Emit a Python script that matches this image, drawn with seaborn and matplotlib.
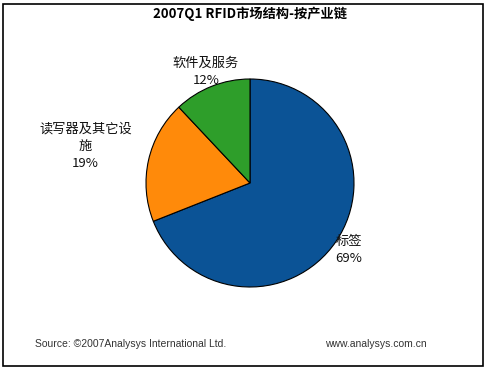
import numpy as np
import seaborn as sns
import matplotlib
matplotlib.use("Agg")
import matplotlib.pyplot as plt
from matplotlib.patches import Rectangle

# data
categories = ["标签", "读写器及其它设\n施", "软件及服务"]
shares = [69, 19, 12]
colors = ["#0B5396", "#FF8A0A", "#2E9E2A"]
label_dist = [1.15, 1.62, 1.15]

title = "2007Q1 RFID市场结构-按产业链"
source = "Source: ©2007Analysys International Ltd."
site = "www.analysys.com.cn"

sns.set_theme(style="white")
plt.rcParams["font.family"] = ["Noto Sans CJK SC", "DejaVu Sans"]

fig = plt.figure(figsize=(4.86, 3.70), dpi=100)
fig.patch.set_facecolor("white")

ax = fig.add_axes([146 / 486, 83 / 370, 208 / 486, 208 / 370])
wedges, _ = ax.pie(shares, colors=colors, startangle=90, counterclock=False,
                   wedgeprops=dict(edgecolor="black", linewidth=0.8))
ax.set_xlim(-1, 1)
ax.set_ylim(-1, 1)
ax.set_aspect("auto")

for w, name, pct, d in zip(wedges, categories, shares, label_dist):
    mid = np.deg2rad((w.theta1 + w.theta2) / 2)
    ax.text(d * np.cos(mid), d * np.sin(mid), f"{name}\n{pct}%",
            ha="center", va="center", multialignment="center",
            fontsize=9.5, linespacing=1.4, color="#111111", clip_on=False)

fig.text(250 / 486, 1 - 14 / 370, title, ha="center", va="center",
         fontsize=9.5, fontweight="bold", color="black")
fig.text(35 / 486, 1 - 344 / 370, source, ha="left", va="center",
         fontsize=7.5, color="#333333", family=["Liberation Sans", "DejaVu Sans"])
fig.text(325 / 486, 1 - 344 / 370, site, ha="left", va="center",
         fontsize=7.5, color="#333333", family=["Liberation Sans", "DejaVu Sans"])

fig.add_artist(Rectangle((3 / 486, 4 / 370), 480 / 486, 362 / 370,
                         transform=fig.transFigure, fill=False,
                         edgecolor="black", linewidth=1.2))

fig.savefig("out.png", dpi=100)
